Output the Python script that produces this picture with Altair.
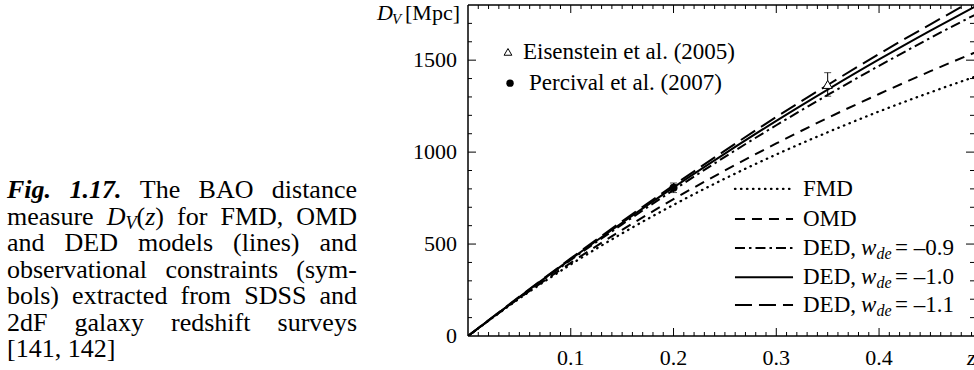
import altair as alt
import pandas as pd

SERIF = "Liberation Serif"

# ---------------- data ----------------
z_grid = [0.0, 0.05, 0.10, 0.15, 0.20, 0.25, 0.30, 0.35, 0.40, 0.45, 0.50]
dv_fmd = [0, 204, 389, 558, 713, 856, 987, 1108, 1221, 1325, 1423]
dv_omd = [0, 206, 398, 577, 744, 900, 1047, 1186, 1316, 1440, 1557]
dv_ded_09 = [0, 210, 413, 607, 794, 974, 1146, 1311, 1469, 1621, 1766]
dv_ded_10 = [0, 212, 418, 616, 808, 992, 1170, 1340, 1504, 1661, 1812]
dv_ded_11 = [0, 214, 422, 624, 819, 1008, 1191, 1365, 1534, 1695, 1851]

obs_labels = ["Eisenstein et al. (2005)", "Percival et al. (2007)"]
obs_z = [0.35, 0.20]
obs_dv = [1368, 806]
obs_err = [64, 26]

legend_models = ["FMD", "OMD", "DED,", "DED,", "DED,"]
legend_wde = ["", "", "= –0.9", "= –1.0", "= –1.1"]

x_tick_labels = [0.1, 0.2, 0.3, 0.4]
y_tick_labels = [0, 500, 1000, 1500]
x_minor = [round(0.01 * i, 2) for i in range(1, 50) if i % 10]
y_minor = [100 * i for i in range(1, 18) if i % 5]
y_major = [500, 1000, 1500]

caption_lines = [
    "Fig. 1.17. The BAO distance",
    "measure D_V(z) for FMD, OMD",
    "and DED models (lines) and",
    "observational constraints (sym-",
    "bols) extracted from SDSS and",
    "2dF galaxy redshift surveys",
    "[141, 142]",
]

# ---------------- layout ----------------
W, H = 506, 331
PAD_L, PAD_T = 468, 5
X_MAX, Y_MAX = 0.4924, 1800
xs = alt.Scale(domain=[0, X_MAX], nice=False, zero=False)
ys = alt.Scale(domain=[0, Y_MAX], nice=False, zero=False)
LEG_FS = 23


def X(f):
    return alt.X(f"{f}:Q", scale=xs, axis=None)


def Y(f):
    return alt.Y(f"{f}:Q", scale=ys, axis=None)


STYLES = [
    dict(strokeDash=[0.5, 5.5], strokeCap="round", strokeWidth=2.3),
    dict(strokeDash=[10, 7], strokeWidth=2),
    dict(strokeDash=[10, 4, 2.5, 4], strokeWidth=2),
    dict(strokeWidth=2),
    dict(strokeDash=[17, 7], strokeWidth=2),
]

layers = []

# model curves
series = [dv_fmd, dv_omd, dv_ded_09, dv_ded_10, dv_ded_11]
for vals, st in zip(series, STYLES):
    df = pd.DataFrame({"z": z_grid, "dv": vals})
    layers.append(alt.Chart(df).mark_line(color="black", clip=True, interpolate="monotone", **st)
                  .encode(x=X("z"), y=Y("dv")))

# observations
obs_df = pd.DataFrame({"name": obs_labels, "z": obs_z, "dv": obs_dv, "err": obs_err})
obs_df["lo"] = obs_df["dv"] - obs_df["err"]
obs_df["hi"] = obs_df["dv"] + obs_df["err"]
layers.append(alt.Chart(obs_df).mark_rule(color="black", strokeWidth=1).encode(
    x=X("z"), y=Y("lo"), y2="hi:Q"))
for f in ["lo", "hi"]:
    layers.append(alt.Chart(obs_df).mark_tick(color="black", orient="horizontal", size=7, thickness=1)
                  .encode(x=X("z"), y=Y(f)))
layers.append(alt.Chart(obs_df.iloc[[0]]).mark_point(shape="triangle-up", filled=True, fill="white",
                                                     stroke="black", strokeWidth=1, size=85, opacity=1)
              .encode(x=X("z"), y=Y("dv")))
layers.append(alt.Chart(obs_df.iloc[[1]]).mark_circle(color="black", size=64, opacity=1)
              .encode(x=X("z"), y=Y("dv")))

# symbol legend (top left)
sym_leg = pd.DataFrame({"name": obs_labels, "sz": [0.0389, 0.0409], "tz": [0.0535, 0.0594],
                        "dv": [1545, 1375]})
layers.append(alt.Chart(sym_leg.iloc[[0]]).mark_point(shape="triangle-up", filled=False, stroke="black",
                                                      strokeWidth=1, size=60, opacity=1)
              .encode(x=X("sz"), y=Y("dv")))
layers.append(alt.Chart(sym_leg.iloc[[1]]).mark_circle(color="black", size=55, opacity=1)
              .encode(x=X("sz"), y=Y("dv")))
layers.append(alt.Chart(sym_leg).mark_text(font=SERIF, fontSize=LEG_FS, align="left", baseline="middle",
                                           color="black")
              .encode(x=X("tz"), y=Y("dv"), text="name:N"))

# line legend (bottom right)
leg_dv = [800, 636, 478, 320, 168]
LEG_X0, LEG_X1, LEG_TX = 0.2598, 0.3163, 0.3260
for i, st in enumerate(STYLES):
    d = pd.DataFrame({"a": [LEG_X0], "b": [LEG_X1], "dv": [leg_dv[i]]})
    layers.append(alt.Chart(d).mark_rule(color="black", **st).encode(x=X("a"), x2="b:Q", y=Y("dv")))
leg_df = pd.DataFrame({"t": legend_models, "w": legend_wde, "tz": [LEG_TX] * 5, "dv": leg_dv})
ded_df = leg_df[leg_df["w"] != ""].copy()
ded_df["wi"] = "w"
ded_df["de"] = "de"
layers.append(alt.Chart(leg_df).mark_text(font=SERIF, fontSize=LEG_FS, align="left", baseline="middle",
                                          color="black").encode(x=X("tz"), y=Y("dv"), text="t:N"))
layers.append(alt.Chart(ded_df).mark_text(font=SERIF, fontSize=LEG_FS, fontStyle="italic", align="left",
                                          baseline="middle", color="black", dx=58)
              .encode(x=X("tz"), y=Y("dv"), text="wi:N"))
layers.append(alt.Chart(ded_df).mark_text(font=SERIF, fontSize=16, fontStyle="italic", align="left",
                                          baseline="middle", color="black", dx=73.5, dy=6)
              .encode(x=X("tz"), y=Y("dv"), text="de:N"))
layers.append(alt.Chart(ded_df).mark_text(font=SERIF, fontSize=LEG_FS, align="left", baseline="middle",
                                          color="black", dx=92)
              .encode(x=X("tz"), y=Y("dv"), text="w:N"))

# tick labels (through the scales)
xl = pd.DataFrame({"z": x_tick_labels, "t": [f"{v:.1f}" for v in x_tick_labels]})
layers.append(alt.Chart(xl).mark_text(font=SERIF, fontSize=22, align="center", baseline="middle",
                                      color="black").encode(x=X("z"), y=alt.value(H + 22), text="t:N"))
yl = pd.DataFrame({"v": y_tick_labels, "t": [str(v) for v in y_tick_labels]})
layers.append(alt.Chart(yl).mark_text(font=SERIF, fontSize=22, align="right", baseline="middle",
                                      color="black").encode(x=alt.value(-11), y=Y("v"), text="t:N"))

# inward ticks
one = pd.DataFrame({"a": [0]})
for vals, ln in [(x_minor, 4), (x_tick_labels, 8)]:
    d = pd.DataFrame({"z": vals})
    layers.append(alt.Chart(d).mark_rule(color="black", strokeWidth=1).encode(
        x=X("z"), y=alt.value(H), y2=alt.value(H - ln)))
    layers.append(alt.Chart(d).mark_rule(color="black", strokeWidth=1).encode(
        x=X("z"), y=alt.value(0), y2=alt.value(ln)))
for vals, ln in [(y_minor, 4), (y_major, 8)]:
    d = pd.DataFrame({"v": vals})
    layers.append(alt.Chart(d).mark_rule(color="black", strokeWidth=1).encode(
        y=Y("v"), x=alt.value(0), x2=alt.value(ln)))
    layers.append(alt.Chart(d).mark_rule(color="black", strokeWidth=1).encode(
        y=Y("v"), x=alt.value(W), x2=alt.value(W - ln)))

# frame
layers.append(alt.Chart(one).mark_rule(color="black", strokeWidth=1.5).encode(
    x=alt.value(0), y=alt.value(0), y2=alt.value(H)))
layers.append(alt.Chart(one).mark_rule(color="black", strokeWidth=1.5).encode(
    x=alt.value(0), x2=alt.value(W), y=alt.value(H)))
layers.append(alt.Chart(one).mark_rule(color="black", strokeWidth=1.5).encode(
    x=alt.value(0), x2=alt.value(W), y=alt.value(0)))


def txt(t, x, y, size=22, style="normal", weight="normal", align="left"):
    return alt.Chart(one).mark_text(font=SERIF, fontSize=size, fontStyle=style, fontWeight=weight,
                                    align=align, baseline="middle", color="black").encode(
        x=alt.value(x), y=alt.value(y), text=alt.value(t))


# axis titles
layers.append(txt("D", -91, 8, style="italic"))
layers.append(txt("V", -76, 14, size=15, style="italic"))
layers.append(txt("[Mpc]", -63, 8))
layers.append(txt("z", 499, H + 22, style="italic"))

# caption (justified, word by word)
TIMES = dict(zip("abcdefghijklmnopqrstuvwxyz",
                 [444, 500, 444, 500, 444, 333, 500, 500, 278, 278, 500, 278, 778, 500, 500, 500, 500,
                  333, 389, 278, 500, 500, 722, 500, 500, 444]))
TIMES.update(dict(zip("ABCDEFGHIJKLMNOPQRSTUVWXYZ",
                      [722, 667, 667, 722, 611, 556, 722, 722, 333, 389, 722, 611, 889, 722, 722, 556,
                       722, 667, 556, 611, 722, 722, 944, 722, 722, 611])))
TIMES.update({" ": 250, ".": 250, ",": 250, "(": 333, ")": 333, "[": 333, "]": 333, "-": 333})
TIMES.update({d: 500 for d in "0123456789"})
ITAL = {"D": 722, "V": 611, "z": 389}
BOLDIT = {"F": 667, "i": 278, "g": 500, ".": 250, "1": 500, "7": 500}

CAP_FS = 26


def seg_w(t, s):
    table = TIMES if s == "n" else (BOLDIT if s == "bi" else ITAL)
    size = CAP_FS * 0.7 if s == "sub" else CAP_FS
    return sum(table.get(c, 500) for c in t) / 1000 * size


def word_segments(word, li):
    if li == 0 and word in ("Fig.", "1.17."):
        return [(word, "bi")]
    if word == "D_V(z)":
        return [("D", "i"), ("V", "sub"), ("(", "n"), ("z", "i"), (")", "n")]
    return [(word, "n")]


CAP_LEFT, CAP_RIGHT = 7 - PAD_L, 357 - PAD_L
CAP_Y0, CAP_DY = 190 - PAD_T, 26.5
cap_styles = {"n": (CAP_FS, "normal", "normal"), "i": (CAP_FS, "italic", "normal"),
              "bi": (CAP_FS, "italic", "bold"), "sub": (CAP_FS * 0.7, "italic", "normal")}
for li, line in enumerate(caption_lines):
    words = [word_segments(w, li) for w in line.split(" ")]
    widths = [sum(seg_w(t, s) for t, s in w) for w in words]
    last = li == len(caption_lines) - 1
    gap = 0.25 * CAP_FS if last else (CAP_RIGHT - CAP_LEFT - sum(widths)) / (len(words) - 1)
    x = CAP_LEFT
    y = CAP_Y0 + li * CAP_DY
    for wi, (w, wd) in enumerate(zip(words, widths)):
        sx = x
        for t, s in w:
            size, style, weight = cap_styles[s]
            layers.append(txt(t, sx, y + (7 if s == "sub" else 0), size=size, style=style, weight=weight))
            sx += seg_w(t, s)
        x += wd + gap

chart = alt.layer(*layers).properties(
    width=W, height=H,
    padding={"left": PAD_L, "top": PAD_T, "right": 0, "bottom": 34},
    autosize=alt.AutoSizeParams(type="none"),
    background="white",
).configure_view(strokeWidth=0)

chart.save("out.html", embed_options={"renderer": "svg", "actions": False})
